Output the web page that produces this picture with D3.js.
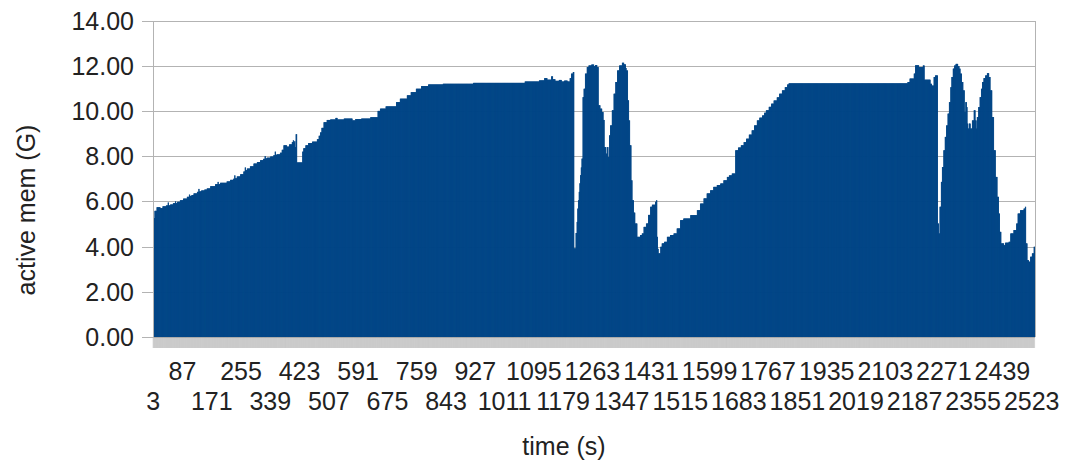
<!DOCTYPE html>
<html>
<head>
<meta charset="utf-8">
<script src="https://cdn.jsdelivr.net/npm/d3@7"></script>
<style>
  html, body { margin: 0; padding: 0; background: #fff; }
  svg { display: block; font-family: "Liberation Sans", Arial, sans-serif; }
</style>
</head>
<body>
<svg id="chart" width="1077" height="463"></svg>
<script>
// Sampling window: one sample per second
const firstSecond = 3;
const lastSecond = 2532;

// Active memory (G), held from each start second until the next one
const stepStart = [
  // warm-up ramp
  3, 7, 13, 23, 30, 40, 45, 47, 52, 60, 66, 68, 72, 80, 89, 100, 106, 108, 113, 119,
  129, 133, 135, 141, 150, 157, 167, 181, 188, 190, 195, 214, 224, 233, 236, 238, 243, 253, 262, 266,
  268, 272, 281, 291, 301, 310, 319, 323, 325, 329, 339, 348, 352, 354, 358, 367, 372, 377, 386, 393,
  401, 404, 406, 408, 410, 412, 415, 431, 434, 440, 448, 459, 473, 478, 482, 486, 492, 501,
  // first plateau
  511, 526, 531, 550, 574, 583, 600, 626, 647, 654, 670, 700, 711, 731, 742, 757, 772, 792, 834, 921,
  1069, 1110, 1125, 1133, 1145, 1149, 1156, 1167, 1174, 1182, 1191, 1198, 1202, 1207,
  // first double peak
  1210, 1215, 1218, 1220, 1222, 1224, 1226, 1228, 1230, 1232, 1235, 1238, 1242, 1247, 1252, 1260, 1267, 1271, 1276, 1280,
  1285, 1290, 1294, 1297, 1302, 1305, 1308, 1311, 1314, 1319, 1324, 1329, 1334, 1340, 1348, 1353, 1358, 1360, 1364, 1367,
  1370, 1374, 1377, 1381, 1385, 1391, 1400, 1405, 1410, 1417, 1423, 1429, 1434, 1443, 1446, 1448, 1450, 1452,
  // second ramp
  1458, 1462, 1469, 1477, 1486, 1496, 1505, 1515, 1524, 1544, 1563, 1572, 1582, 1591, 1601, 1610, 1620, 1630, 1639, 1649,
  1655, 1663, 1673, 1681, 1689, 1697, 1704, 1712, 1720, 1727, 1735, 1742, 1750, 1756, 1761, 1769, 1776, 1783, 1792, 1799,
  1807, 1815, 1822, 1826,
  // second plateau and double peak
  2167, 2173, 2185, 2189, 2199, 2211, 2215, 2232, 2236, 2242, 2246, 2253, 2256, 2259, 2263, 2266, 2270, 2274, 2278, 2282,
  2286, 2290, 2293, 2297, 2301, 2305, 2311, 2315, 2318, 2322, 2326, 2330, 2333, 2336, 2338, 2340, 2343, 2347, 2352, 2357,
  2361, 2364, 2366, 2370, 2374, 2378, 2381, 2385, 2390, 2395, 2400, 2404, 2409, 2414, 2419, 2424, 2428, 2431, 2435, 2443,
  2447, 2457, 2462, 2471, 2479, 2483, 2490, 2500, 2504, 2506, 2510, 2514, 2519, 2524, 2529, 2532
];
const stepMem = [
  // warm-up ramp
  5.26, 5.58, 5.74, 5.70, 5.78, 5.82, 5.95, 5.82, 5.86, 5.92, 6.00, 5.92, 5.98, 6.05, 6.12, 6.20, 6.30, 6.24, 6.28, 6.35,
  6.42, 6.55, 6.44, 6.48, 6.52, 6.57, 6.67, 6.76, 6.86, 6.76, 6.82, 6.88, 6.95, 7.00, 7.15, 7.02, 7.10, 7.20, 7.32, 7.50,
  7.38, 7.45, 7.55, 7.67, 7.74, 7.82, 7.88, 8.00, 7.90, 7.93, 7.98, 8.04, 8.20, 8.06, 8.08, 8.15, 8.28, 8.48, 8.42, 8.52,
  8.62, 8.70, 8.60, 8.66, 8.40, 8.97, 7.72, 8.20, 8.35, 8.48, 8.58, 8.64, 8.75, 8.90, 9.05, 9.25, 9.50, 9.60,
  // first plateau
  9.62, 9.69, 9.62, 9.66, 9.58, 9.64, 9.66, 9.72, 10.00, 10.10, 10.20, 10.39, 10.54, 10.69, 10.83, 10.98, 11.10, 11.17, 11.20, 11.24,
  11.30, 11.35, 11.45, 11.38, 11.53, 11.40, 11.33, 11.37, 11.30, 11.34, 11.30, 11.45, 11.65, 11.72,
  // first double peak
  3.92, 4.60, 5.09, 5.68, 6.05, 6.42, 6.80, 7.16, 7.50, 7.89, 10.61, 10.98, 11.65, 11.94, 12.01, 12.05, 11.98, 12.03, 11.94, 10.25,
  10.10, 9.95, 9.60, 8.40, 8.11, 8.40, 7.96, 8.92, 9.36, 10.03, 10.76, 11.28, 11.79, 12.01, 12.13, 12.06, 11.90, 11.79, 10.47, 9.58,
  8.48, 6.93, 6.05, 5.50, 5.02, 4.43, 4.51, 4.58, 4.87, 5.02, 5.40, 5.76, 5.85, 5.98, 6.05, 4.43, 3.90, 3.70,
  // second ramp
  3.99, 4.14, 4.21, 4.43, 4.51, 4.58, 4.80, 5.17, 5.24, 5.39, 5.61, 5.90, 6.13, 6.35, 6.49, 6.64, 6.72, 6.79, 6.93, 7.08,
  7.15, 7.23, 8.26, 8.38, 8.48, 8.62, 8.77, 8.95, 9.14, 9.36, 9.58, 9.70, 9.80, 9.92, 10.03, 10.18, 10.32, 10.46, 10.60, 10.76,
  10.91, 11.05, 11.17, 11.22,
  // second plateau and double peak
  11.28, 11.43, 11.65, 12.02, 11.94, 12.01, 11.38, 11.20, 11.12, 11.50, 11.57, 5.02, 4.58, 5.76, 6.86, 7.52, 8.26, 8.85, 9.36, 9.88,
  10.39, 11.05, 11.50, 11.87, 12.01, 12.08, 11.98, 11.87, 11.65, 11.28, 10.91, 9.95, 10.39, 10.17, 9.44, 9.22, 9.44, 9.22, 9.58, 10.03,
  9.58, 9.22, 9.73, 10.17, 10.61, 10.98, 11.28, 11.45, 11.57, 11.67, 11.50, 10.91, 9.73, 8.26, 7.08, 6.20, 5.46, 4.65, 4.14, 4.06,
  4.17, 4.21, 4.58, 4.73, 5.02, 5.46, 5.61, 5.68, 5.76, 4.14, 3.40, 3.33, 3.55, 3.70, 3.99, 3.77
];

// Category labels shown along the time axis (every 84th second)
const timeLabels = [3, 87, 171, 255, 339, 423, 507, 591, 675, 759, 843, 927, 1011, 1095, 1179, 1263,
  1347, 1431, 1515, 1599, 1683, 1767, 1851, 1935, 2019, 2103, 2187, 2271, 2355, 2439, 2523];
const memTicks = [0, 2, 4, 6, 8, 10, 12, 14];

const seconds = d3.range(firstSecond, lastSecond + 1);
const memBySecond = seconds.map(t => stepMem[d3.bisectRight(stepStart, t) - 1]);

const plot = { left: 153, right: 1035, top: 20.5, bottom: 337 };
const svg = d3.select("#chart");

const x = d3.scaleBand().domain(seconds).range([plot.left, plot.right]).padding(0);
const y = d3.scaleLinear().domain([0, 14]).range([plot.bottom, plot.top]);

const gridColor = "#b3b3b3";
const textColor = "#222";
const fontSize = 25;

// horizontal gridlines
svg.append("g")
  .selectAll("line")
  .data(memTicks)
  .join("line")
  .attr("x1", plot.left).attr("x2", plot.right)
  .attr("y1", d => Math.round(y(d)) + 0.5).attr("y2", d => Math.round(y(d)) + 0.5)
  .attr("stroke", gridColor).attr("stroke-width", 1);

// category ticks under the baseline
svg.append("g")
  .selectAll("line")
  .data(seconds)
  .join("line")
  .attr("x1", d => x(d)).attr("x2", d => x(d))
  .attr("y1", plot.bottom).attr("y2", plot.bottom + 11)
  .attr("stroke", "#a8a8a8").attr("stroke-width", 0.28);

// bars
svg.append("g")
  .selectAll("rect")
  .data(seconds)
  .join("rect")
  .attr("x", d => x(d))
  .attr("width", x.bandwidth() + 0.55)
  .attr("y", (d, i) => y(memBySecond[i]))
  .attr("height", (d, i) => y(0) - y(memBySecond[i]))
  .attr("fill", "#004586");

// frame: value axis on the left, closing line on the right
svg.append("line")
  .attr("x1", plot.left + 0.5).attr("x2", plot.left + 0.5)
  .attr("y1", Math.round(plot.top)).attr("y2", plot.bottom + 1)
  .attr("stroke", gridColor);
svg.append("line")
  .attr("x1", plot.right + 0.5).attr("x2", plot.right + 0.5)
  .attr("y1", Math.round(plot.top)).attr("y2", plot.bottom)
  .attr("stroke", gridColor);

// value axis ticks and labels
const yAxis = svg.append("g");
yAxis.selectAll("line")
  .data(memTicks)
  .join("line")
  .attr("x1", plot.left - 11).attr("x2", plot.left)
  .attr("y1", d => Math.round(y(d)) + 0.5).attr("y2", d => Math.round(y(d)) + 0.5)
  .attr("stroke", gridColor);
yAxis.selectAll("text")
  .data(memTicks)
  .join("text")
  .attr("x", 134)
  .attr("y", d => y(d))
  .attr("dy", "0.36em")
  .attr("text-anchor", "end")
  .attr("fill", textColor)
  .attr("font-size", fontSize)
  .text(d3.format(".2f"));

// time labels, staggered over two rows
svg.append("g")
  .selectAll("text")
  .data(timeLabels)
  .join("text")
  .attr("x", d => x(d) + x.bandwidth() / 2)
  .attr("y", (d, i) => i % 2 === 0 ? 409.5 : 380)
  .attr("text-anchor", "middle")
  .attr("fill", textColor)
  .attr("font-size", fontSize)
  .text(d => d);

// axis titles
svg.append("text")
  .attr("transform", "translate(35,210) rotate(-90)")
  .attr("text-anchor", "middle")
  .attr("fill", textColor)
  .attr("font-size", fontSize)
  .text("active mem (G)");
svg.append("text")
  .attr("x", 564)
  .attr("y", 455)
  .attr("text-anchor", "middle")
  .attr("fill", textColor)
  .attr("font-size", fontSize)
  .text("time (s)");
</script>
</body>
</html>
